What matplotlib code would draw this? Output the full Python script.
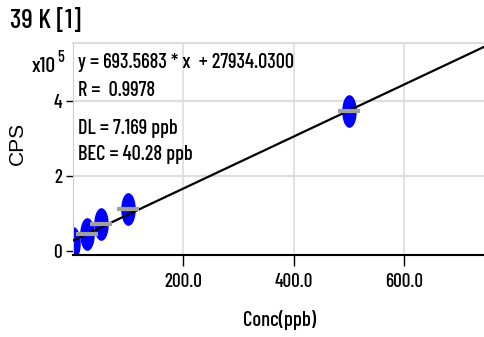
import numpy as np
import matplotlib
matplotlib.use('Agg')
import matplotlib.pyplot as plt
from matplotlib.path import Path

narrow = ['Barlow Condensed', 'Archivo Narrow', 'Liberation Sans', 'DejaVu Sans']
plt.rcParams['font.family'] = narrow
plt.rcParams['font.weight'] = 'medium'

# calibration standards (ppb) and measured CPS
conc = [0, 25, 50, 100, 500]
cps = [21000, 45000, 72000, 112000, 373000]
slope = 693.5683
intercept = 27934.0300

title = '39 K [1]'
info = ['y = 693.5683 * x  + 27934.0300', 'R =  0.9978', 'DL = 7.169 ppb', 'BEC = 40.28 ppb']
xticks = [200, 400, 600]
yticks = [0, 2, 4]

fig = plt.figure(figsize=(4.84, 3.37), dpi=100)
ax = fig.add_axes([73/484, 1-255/337, 1-73/484, (255-43)/337])
r = fig.canvas.get_renderer()
grow = 1.15  # reference glyphs are taller than the condensed font gives at equal width


def fit(t, target, dim='w', k=grow):
    # scale font so the text takes about the wanted pixel width (or height)
    bb = t.get_window_extent(r)
    cur = bb.width if dim == 'w' else bb.height
    t.set_fontsize(t.get_fontsize() * target / cur * k)
    return t.get_fontsize()


ax.set_xlim(0, 745)
ax.set_ylim(-0.107e5, 5.55e5)

for t in xticks:
    ax.axvline(t, color='#dddddd', lw=1.2, zorder=0)
for t in yticks[1:]:
    ax.axhline(t*1e5, color='#dddddd', lw=1.5, zorder=0)

# ellipse marker
th = np.linspace(0, 2*np.pi, 60)
ell = Path(np.column_stack([0.42*np.cos(th), np.sin(th)]))
ax.plot(conc, cps, ls='none', marker=ell, ms=22.5, color='#0000ff', zorder=2)

xf = np.array([0, 745])
ax.plot(xf, slope*xf + intercept, color='black', lw=1.6, zorder=3)

ax.plot(conc[1:], cps[1:], ls='none', marker='_', ms=16, mew=3, color='#a0a0a0', zorder=4)

# tick label size from the width of "200.0"
probe = fig.text(0, 0, '%.1f' % xticks[0], fontsize=12)
tsize = fit(probe, 33)
probe.remove()

ax.set_xticks(xticks)
ax.set_xticklabels(['%.1f' % t for t in xticks])
ax.set_yticks([t*1e5 for t in yticks])
ax.set_yticklabels([str(t) for t in yticks])
ax.tick_params(axis='x', length=8, width=1, labelsize=tsize, direction='out', pad=5)
ax.tick_params(axis='y', length=5, width=1, labelsize=tsize, direction='out', pad=3)

for s in ['top', 'right']:
    ax.spines[s].set_visible(False)
ax.spines['left'].set_color('#cccccc')
ax.spines['bottom'].set_linewidth(1.5)
ax.axhline(5.55e5, color='#dddddd', lw=1.5, clip_on=False)

xl = fig.text(280/484, 1-320/337, 'Conc(ppb)', fontsize=12, ha='center', va='center')
fit(xl, 64)
cp = fig.text(17/484, 1-143/337, 'CPS', rotation=90, fontsize=13, ha='center', va='center',
              family=['Liberation Sans', 'DejaVu Sans'], weight='normal')
fit(cp, 43, 'h', 1.0)
tt = fig.text(10/484, 1-20/337, title, fontsize=12, ha='left', va='center')
fit(tt, 62)
xt = fig.text(32/484, 1-67/337, 'x10', fontsize=12, ha='left', va='center')
fit(xt, 21)
fig.text(57/484, 1-58/337, '5', fontsize=xt.get_fontsize()*0.75, ha='left', va='center')

ys = [62, 91, 128, 155]
texts = [fig.text(78/484, 1-y/337, s, fontsize=12, ha='left', va='center') for s, y in zip(info, ys)]
isize = fit(texts[0], 189)
for t in texts[1:]:
    t.set_fontsize(isize)

fig.savefig('out.png', dpi=100)
